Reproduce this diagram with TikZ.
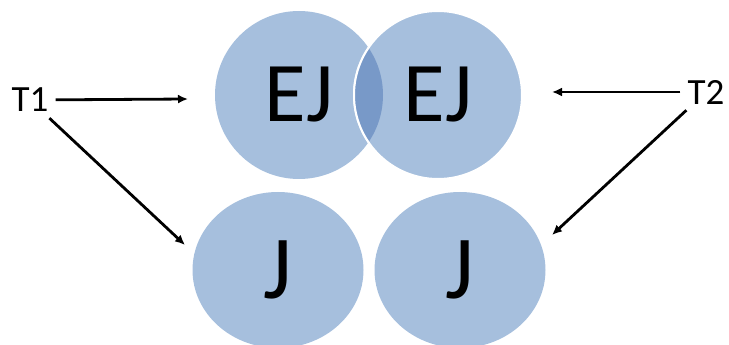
\documentclass[tikz,border=0pt]{standalone}
\usepackage{fontspec}
\setmainfont{Carlito}
\usetikzlibrary{arrows.meta}
\usetikzlibrary{shapes.geometric}
\definecolor{vennBlue}{RGB}{166,191,221}
\definecolor{lensBlue}{RGB}{120,153,200}

\begin{document}
\begin{tikzpicture}[
    x=1pt, y=1pt,
    set/.style={
        circle,
        fill=vennBlue,
        minimum size=168pt,
        inner sep=0pt,
        font=\fontsize{85}{85}\selectfont
    },
    subset/.style={
        ellipse,
        fill=vennBlue,
        minimum width=171pt,
        minimum height=156pt,
        inner sep=0pt,
        font=\fontsize{90}{90}\selectfont
    },
    tag/.style={
        inner sep=4pt,
        font=\fontsize{37}{37}\selectfont
    },
    link/.style={
        black,
        line width=2.8pt,
        shorten <=3pt,
        -{Latex[length=10pt,width=9pt]}
    }
]

\useasboundingbox (0,0) rectangle (729,345);

%------------------------------------------------
% Overlapping sets
%------------------------------------------------
\node[set] (ejleft) at (299,250) {EJ};
\node[set, draw=white, line width=2pt] (ejright) at (438,250) {EJ};

% Overlap of the two sets
\begin{scope}
    \clip (ejleft.center) circle (84);
    \fill[lensBlue] (ejright.center) circle (84);
    \draw[white, line width=2pt] (ejright.center) circle (84);
\end{scope}

%------------------------------------------------
% Separate sets
%------------------------------------------------
\node[subset] (jleft) at (278,75) {J};
\node[subset] (jright) at (460,75) {J};

%------------------------------------------------
% Labels and arrows
%------------------------------------------------
\node[tag] (tone) at (30,245) {T1};
\node[tag] (ttwo) at (706,253) {T2};

\coordinate (tipa) at (188,246);
\coordinate (tipb) at (185,100);
\coordinate (tipc) at (552,253);
\coordinate (tipd) at (552,110);

\draw[link] (tone) -- (tipa);
\draw[link] (tone) -- (tipb);
\draw[link] (ttwo) -- (tipc);
\draw[link] (ttwo) -- (tipd);

\end{tikzpicture}
\end{document}
